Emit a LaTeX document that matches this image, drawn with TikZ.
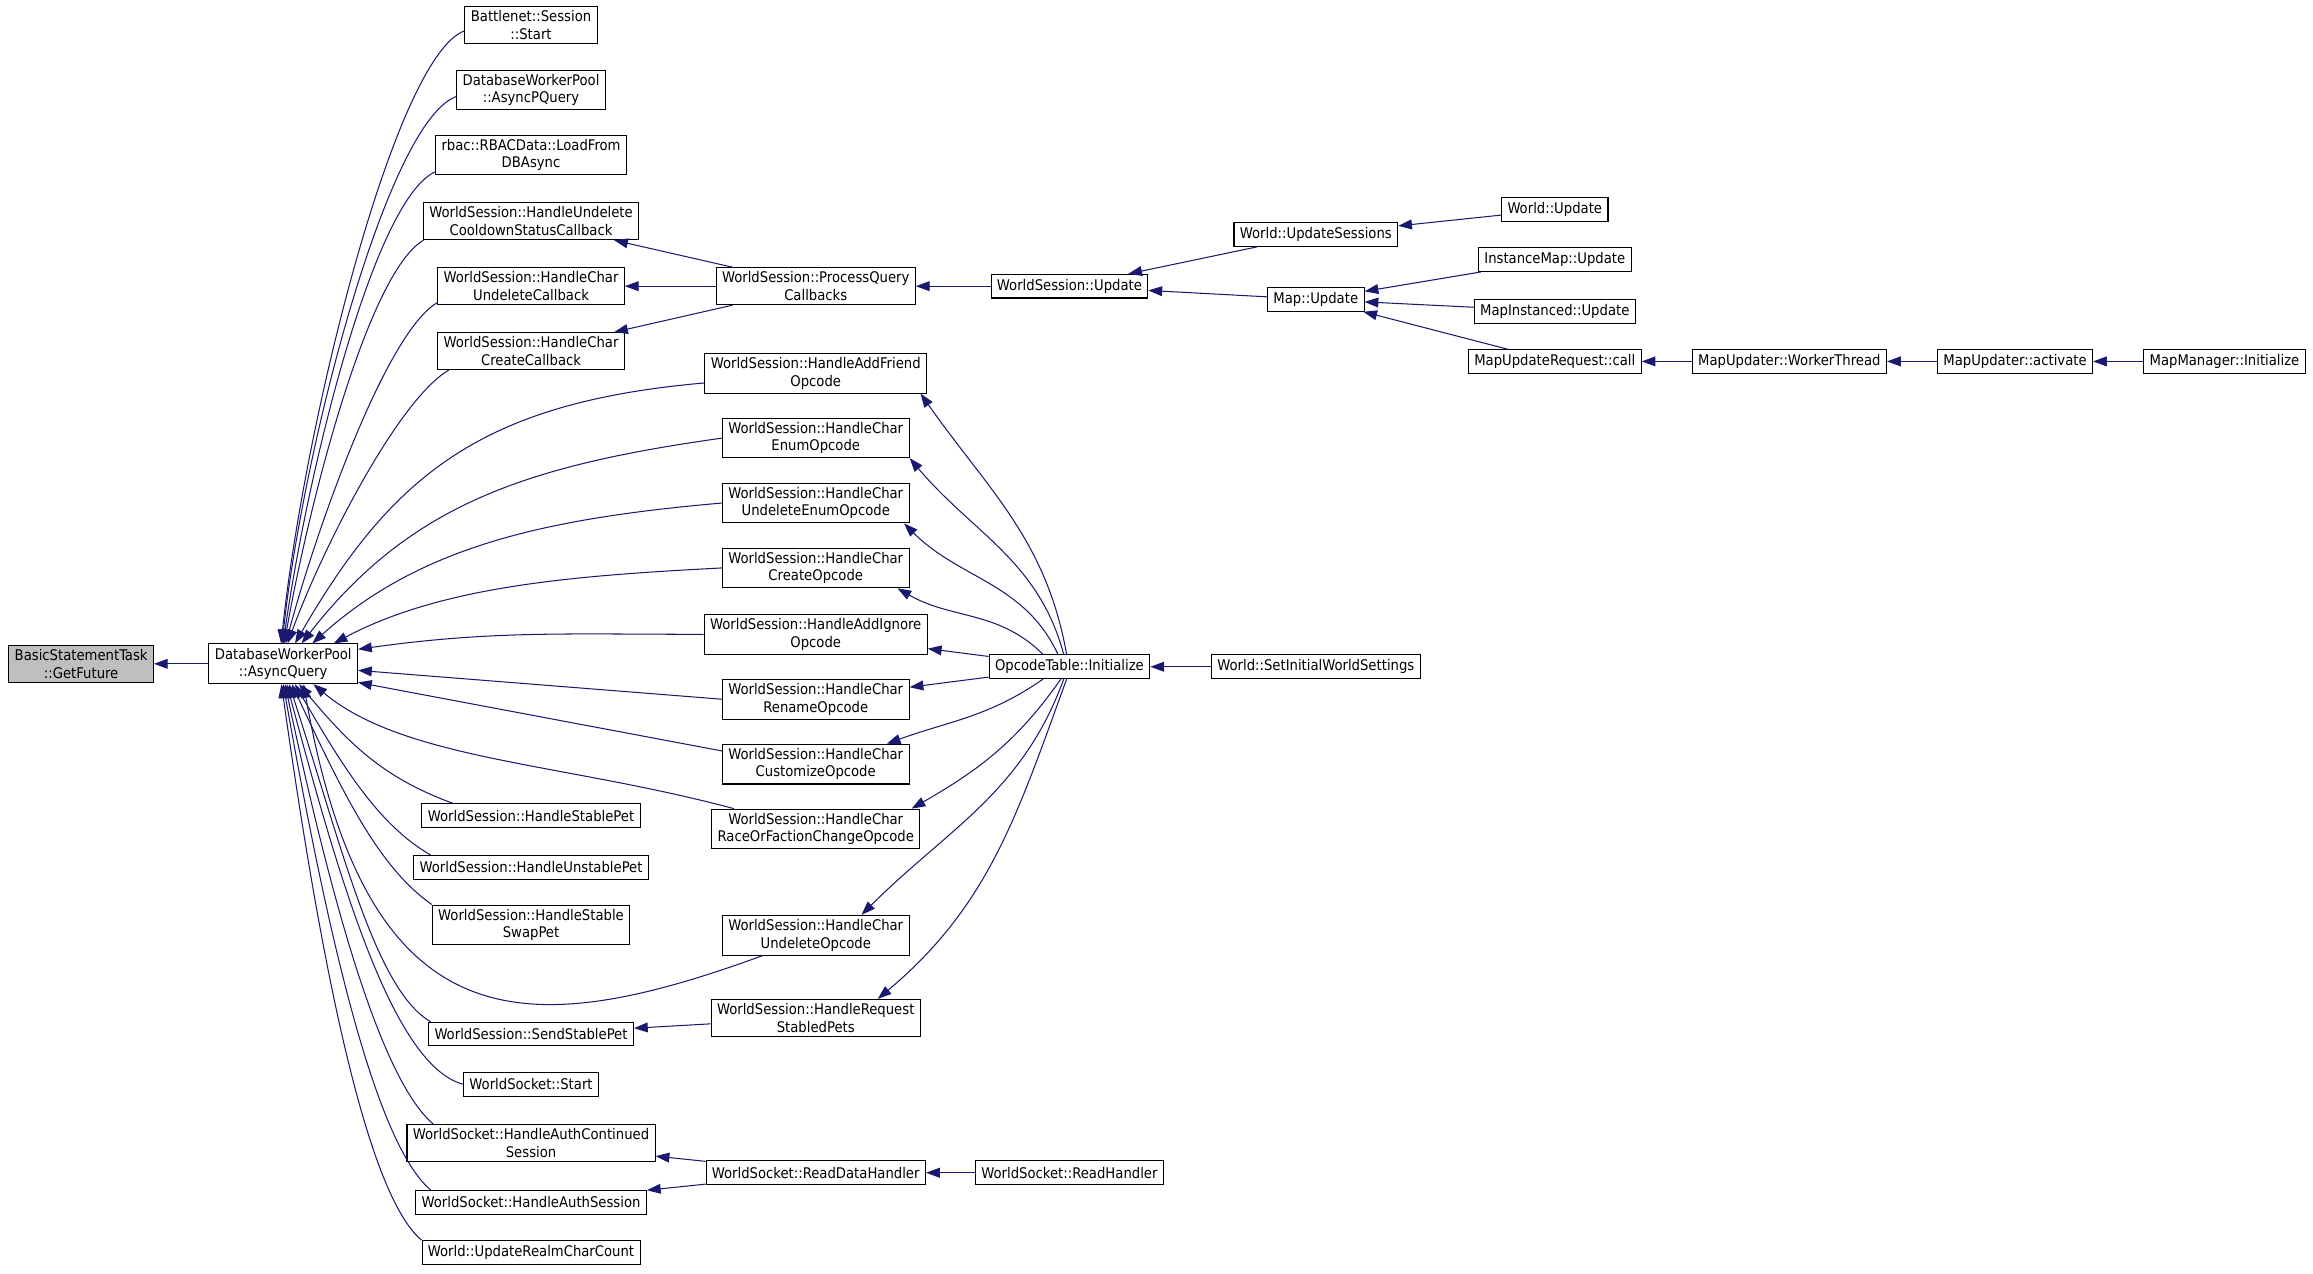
\documentclass[tikz,border=0pt]{standalone}
\usepackage{fontspec}
\setmainfont{DejaVu Sans Condensed}
\usetikzlibrary{arrows.meta}
\definecolor{navy}{RGB}{25,25,112}

\begin{document}
\begin{tikzpicture}[<-,>={Triangle[length=0.28cm,width=0.2cm]},x=0.03cm,y=-0.03cm,
                    every edge/.style={draw,navy,line width=0.6pt},
                    fn/.style={draw=black,text=black,fill=white,align=center,line width=0.6pt,
                               inner xsep=0.12cm,inner ysep=0.08cm,minimum height=0.48cm,
                               font=\fontsize{8.5}{10.2}\selectfont}]
  \useasboundingbox (0,0) rectangle (1568,863);

  \node[fn,fill=black!25] (gf) at (55,450)  {BasicStatementTask\\::GetFuture};
  \node[fn]               (aq) at (192,450) {DatabaseWorkerPool\\::AsyncQuery};

  % direct callers
  \node[fn] (bss)  at (360,17)  {Battlenet::Session\\::Start};
  \node[fn] (apq)  at (360,61)  {DatabaseWorkerPool\\::AsyncPQuery};
  \node[fn] (rbac) at (360,105) {rbac::RBACData::LoadFrom\\DBAsync};
  \node[fn] (hucs) at (360,150) {WorldSession::HandleUndelete\\CooldownStatusCallback};
  \node[fn] (hcuc) at (360,194) {WorldSession::HandleChar\\UndeleteCallback};
  \node[fn] (hccc) at (360,238) {WorldSession::HandleChar\\CreateCallback};
  \node[fn] (hsp)  at (360,553) {WorldSession::HandleStablePet};
  \node[fn] (hup)  at (360,588) {WorldSession::HandleUnstablePet};
  \node[fn] (hssp) at (360,627) {WorldSession::HandleStable\\SwapPet};
  \node[fn] (ssp)  at (360,701) {WorldSession::SendStablePet};
  \node[fn] (wss)  at (360,735) {WorldSocket::Start};
  \node[fn] (hacs) at (360,775) {WorldSocket::HandleAuthContinued\\Session};
  \node[fn] (has)  at (360,815) {WorldSocket::HandleAuthSession};
  \node[fn] (urcc) at (360,849) {World::UpdateRealmCharCount};

  \node[fn] (pqc)  at (553,194) {WorldSession::ProcessQuery\\Callbacks};
  \node[fn] (haf)  at (553,253) {WorldSession::HandleAddFriend\\Opcode};
  \node[fn] (hce)  at (553,297) {WorldSession::HandleChar\\EnumOpcode};
  \node[fn] (hcue) at (553,341) {WorldSession::HandleChar\\UndeleteEnumOpcode};
  \node[fn] (hcc)  at (553,385) {WorldSession::HandleChar\\CreateOpcode};
  \node[fn] (hai)  at (553,430) {WorldSession::HandleAddIgnore\\Opcode};
  \node[fn] (hcr)  at (553,474) {WorldSession::HandleChar\\RenameOpcode};
  \node[fn] (hccu) at (553,518) {WorldSession::HandleChar\\CustomizeOpcode};
  \node[fn] (hcrf) at (553,562) {WorldSession::HandleChar\\RaceOrFactionChangeOpcode};
  \node[fn] (hcu)  at (553,634) {WorldSession::HandleChar\\UndeleteOpcode};
  \node[fn] (hrsp) at (553,690) {WorldSession::HandleRequest\\StabledPets};
  \node[fn] (rdh)  at (553,795) {WorldSocket::ReadDataHandler};

  \node[fn] (wsu)  at (725,194) {WorldSession::Update};
  \node[fn] (oti)  at (725,452) {OpcodeTable::Initialize};
  \node[fn] (rh)   at (725,795) {WorldSocket::ReadHandler};

  \node[fn] (wus)  at (892,159) {World::UpdateSessions};
  \node[fn] (mu)   at (892,203) {Map::Update};
  \node[fn] (siws) at (892,452) {World::SetInitialWorldSettings};

  \node[fn] (wu)   at (1054,142) {World::Update};
  \node[fn] (imu)  at (1054,176) {InstanceMap::Update};
  \node[fn] (miu)  at (1054,211) {MapInstanced::Update};
  \node[fn] (murc) at (1054,245) {MapUpdateRequest::call};
  \node[fn] (wt)   at (1213,245) {MapUpdater::WorkerThread};
  \node[fn] (act)  at (1366,245) {MapUpdater::activate};
  \node[fn] (mmi)  at (1508,245) {MapManager::Initialize};

  \path (gf) edge (aq)
        % upper fan
        (aq.96) edge[out=84,in=200,out distance=4.5cm,in distance=1.5cm] (bss.185)
        (aq.93) edge[out=84,in=200,out distance=3.9cm,in distance=1.5cm] (apq.185)
        (aq.90) edge[out=82,in=205,out distance=3.4cm,in distance=1.4cm] (rbac.190)
        (aq.87) edge[out=80,in=210,out distance=2.9cm,in distance=1.3cm] (hucs.190)
        (aq.83) edge[out=75,in=210,out distance=2.4cm,in distance=1.2cm] (hcuc.190)
        (aq.78) edge[out=70,in=210,out distance=2cm,in distance=1.2cm]   (hccc.193)
        (aq.60) edge[out=60,in=185,out distance=4cm,in distance=4.5cm]   (haf.185)
        (aq.48) edge[out=52,in=188,out distance=3.6cm,in distance=4cm]   (hce.west)
        (aq.35) edge[out=42,in=185,out distance=3cm,in distance=3.5cm]   (hcue.west)
        (aq.22) edge[out=28,in=183,out distance=2.5cm,in distance=3cm]   (hcc.west)
        (aq.11) edge[out=8,in=180] (hai.west)
        (aq.-5) edge (hcr.west)
        (aq.-14) edge (hccu.172)
        (aq.-34) edge[out=-40,in=165,out distance=2.4cm,in distance=3.6cm] (hcrf.166)
        (aq.-45) edge[out=-80,in=200,out distance=7.5cm,in distance=5.1cm] (hcu.201)
        % lower fan
        (aq.-52) edge[out=-50,in=160] (hsp.171)
        (aq.-60) edge[out=-60,in=150,out distance=2cm,in distance=1.2cm]   (hup.173)
        (aq.-67) edge[out=-65,in=145,out distance=2.5cm,in distance=1.3cm] (hssp.north west)
        (aq.-74) edge[out=-72,in=150,out distance=3.5cm,in distance=1.3cm] (ssp.173)
        (aq.-80) edge[out=-75,in=165,out distance=4cm,in distance=1.5cm]   (wss.west)
        (aq.-85) edge[out=-78,in=140,out distance=4.5cm,in distance=1.4cm] (hacs.169)
        (aq.-90) edge[out=-80,in=140,out distance=5cm,in distance=1.5cm]   (has.173)
        (aq.-95) edge[out=-82,in=140,out distance=5.5cm,in distance=1.5cm] (urcc.north west)
        % second level
        (hucs) edge (pqc)
        (hcuc) edge (pqc)
        (hccc) edge (pqc)
        (pqc)  edge (wsu)
        (wsu)  edge (wus)
        (wsu)  edge (mu)
        (wus)  edge (wu)
        (mu)   edge (imu)
        (mu)   edge (miu)
        (mu)   edge (murc)
        (murc) edge (wt)
        (wt)   edge (act)
        (act)  edge (mmi)
        (ssp)  edge (hrsp)
        (hacs) edge (rdh)
        (has)  edge (rdh)
        (rdh)  edge (rh)
        (oti)  edge (siws)
        (hai)  edge (oti)
        (hcr)  edge (oti)
        (haf.-11)  edge[out=-55,in=100]  (oti.103)
        (hce.-12)  edge[out=-50,in=105]  (oti.115)
        (hcue.-13) edge[out=-45,in=115]  (oti.133)
        (hcc.-14)  edge[out=-30,in=135]  (oti.155)
        (hccu.16)  edge[out=20,in=-145]  (oti.-155)
        (hcrf.12)  edge[out=30,in=-125]  (oti.-125)
        (hcu.24)   edge[out=45,in=-110]  (oti.-115)
        (hrsp.17)  edge[out=40,in=-110]  (oti.-103);
\end{tikzpicture}
\end{document}
